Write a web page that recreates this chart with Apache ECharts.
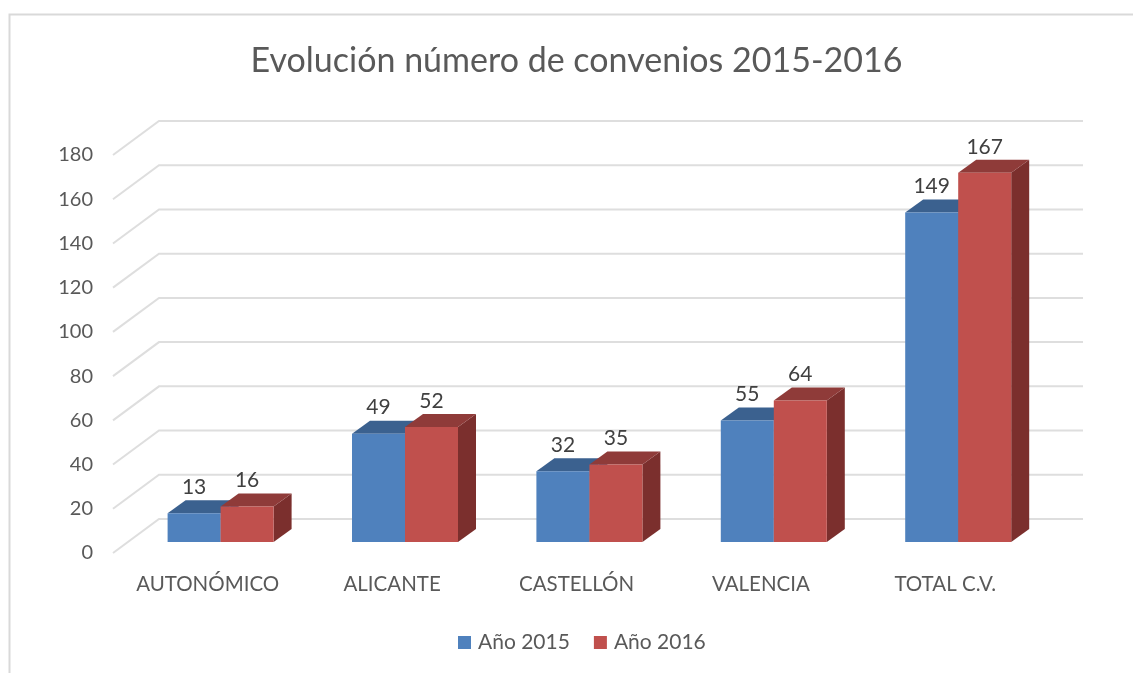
<!DOCTYPE html>
<html lang="es">
<head>
    <meta charset="UTF-8">
    <title>Evolución número de convenios</title>
    <script type="text/javascript" src="https://cdn.jsdelivr.net/npm/echarts@6/dist/echarts.min.js"></script>
    <style>
        html, body { margin: 0; padding: 0; background: #fff; }
        #chart { width: 1133px; height: 673px; }
    </style>
</head>
<body>
<div id="chart"></div>
<script type="text/javascript">
    var categories = ['AUTONÓMICO', 'ALICANTE', 'CASTELLÓN', 'VALENCIA', 'TOTAL C.V.'];
    var values2015 = [13, 49, 32, 55, 149];
    var values2016 = [16, 52, 35, 64, 167];
    var yTicks = [0, 20, 40, 60, 80, 100, 120, 140, 160, 180];

    var FONT = 'Lato, "Open Sans", sans-serif';
    var TEXT = '#595959';

    // 3d look: walls and floor are drawn by hand, values still go through api.coord
    function wallItem(params, api) {
        var p = api.coord([0, api.value(1)]);
        var x = params.coordSys.x;
        var w = params.coordSys.width;
        return {
            type: 'polyline',
            shape: { points: [[x, p[1]], [x + 46, p[1] - 34], [x + 48 + w, p[1] - 34]] },
            style: { fill: null, stroke: '#dedede', lineWidth: 2 }
        };
    }

    function barRenderer(slot, front, top, side) {
        return function (params, api) {
            var idx = api.value(0);
            var p = api.coord([idx, api.value(1)]);
            var base = api.coord([idx, 0]);
            var bw = 53;
            var l = p[0] + 15.4 + (slot === 0 ? -bw : 0);
            var r = l + bw;
            var t = p[1] - 11;
            var b = base[1] - 11;
            var dx = 18, dy = 13;
            return {
                type: 'group',
                children: [
                    {
                        type: 'polygon',
                        shape: { points: [[r, t], [r + dx, t - dy], [r + dx, b - dy], [r, b]] },
                        style: { fill: side }
                    },
                    {
                        type: 'polygon',
                        shape: { points: [[l, t], [l + dx, t - dy], [r + dx, t - dy], [r, t]] },
                        style: { fill: top }
                    },
                    {
                        type: 'rect',
                        shape: { x: l, y: t, width: bw, height: b - t },
                        style: { fill: front }
                    },
                    {
                        type: 'text',
                        style: {
                            x: (l + r) / 2, y: t - 26,
                            text: String(api.value(1)),
                            align: 'center', verticalAlign: 'middle',
                            fill: '#404040', font: '21px ' + FONT
                        }
                    }
                ]
            };
        };
    }

    function pairs(list) {
        return list.map(function (v, i) { return [i, v]; });
    }

    var mychart = echarts.init(document.getElementById('chart'), null, { renderer: 'canvas' });
    var option = {
        animation: false,
        backgroundColor: '#fff',
        title: {
            text: 'Evolución número de convenios 2015-2016',
            left: 571.5, top: 39, textAlign: 'center',
            textStyle: { fontFamily: FONT, fontSize: 34, fontWeight: 'normal', color: TEXT }
        },
        legend: {
            data: ['Año 2015', 'Año 2016'],
            left: 453, top: 627,
            icon: 'rect', itemWidth: 13, itemHeight: 13, itemGap: 24,
            textStyle: { fontFamily: FONT, fontSize: 21, color: TEXT, padding: [0, 0, 0, 2] }
        },
        grid: { left: 113, top: 155, width: 922, height: 398 },
        xAxis: {
            type: 'category',
            data: categories,
            axisLine: { show: false },
            axisTick: { show: false },
            axisLabel: { interval: 0, color: TEXT, fontFamily: FONT, fontSize: 20.5, margin: 21, padding: [0, 0, 0, 5] }
        },
        yAxis: {
            type: 'value',
            min: 0, max: 180, interval: 20,
            axisLine: { show: false },
            axisTick: { show: false },
            splitLine: { show: false },
            axisLabel: { color: TEXT, fontFamily: FONT, fontSize: 20, margin: 20 }
        },
        graphic: [
            {
                type: 'polyline', silent: true,
                shape: { points: [[9.5, 673], [9.5, 14.5], [1133, 14.5]] },
                style: { fill: null, stroke: '#d9d9d9', lineWidth: 2 }
            }
        ],
        series: [
            {
                name: 'paredes', type: 'custom', silent: true, z: 1,
                clip: false,
                renderItem: wallItem,
                data: pairs(yTicks).map(function (d) { return [0, d[1]]; })
            },
            {
                name: 'Año 2015', type: 'custom', z: 2, clip: false,
                itemStyle: { color: '#4f81bd' },
                renderItem: barRenderer(0, '#4f81bd', '#3b618f', '#385d8a'),
                data: pairs(values2015)
            },
            {
                name: 'Año 2016', type: 'custom', z: 3, clip: false,
                itemStyle: { color: '#c0504d' },
                renderItem: barRenderer(1, '#c0504d', '#8f3b39', '#7b2f2d'),
                data: pairs(values2016)
            }
        ]
    };
    mychart.setOption(option);
</script>
</body>
</html>
